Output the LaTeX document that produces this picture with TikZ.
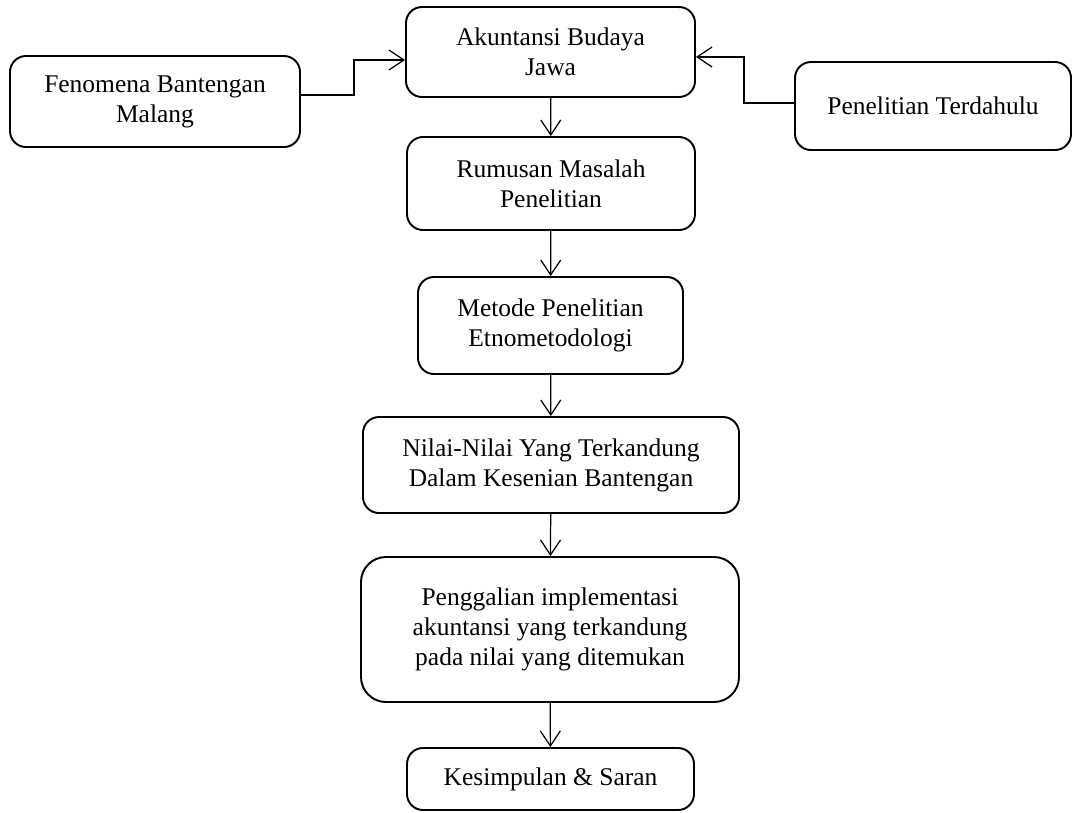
\documentclass[tikz,border=0pt]{standalone}
\usepackage{fontspec}
\setmainfont{Liberation Serif}
\usetikzlibrary{arrows.meta}
\tikzset{box/.style={draw,line width=1.1pt,rounded corners=0.32cm,align=center,
  font=\fontsize{14.5}{17}\selectfont,inner sep=2pt},
  arr/.style={line width=0.7pt,-{Straight Barb[length=0.3cm,width=0.4cm]}}}

\begin{document}
\begin{tikzpicture}
\useasboundingbox (0,0) rectangle (21.52,-16.24);
\node[box,minimum width=5.78cm,minimum height=1.8cm] (akun) at (11.01,-1.04) {Akuntansi Budaya\\Jawa};
\node[box,minimum width=5.8cm,minimum height=1.82cm] (fenom) at (3.1,-2.03) {Fenomena Bantengan\\Malang};
\node[box,minimum width=5.52cm,minimum height=1.76cm] (terd) at (18.66,-2.12) {Penelitian Terdahulu};
\node[box,minimum width=5.76cm,minimum height=1.86cm] (rumus) at (11.02,-3.67) {Rumusan Masalah\\Penelitian};
\node[box,minimum width=5.3cm,minimum height=1.94cm] (metode) at (11.01,-6.51) {Metode Penelitian\\Etnometodologi};
\node[box,minimum width=7.52cm,minimum height=1.92cm] (nilai) at (11.02,-9.3) {Nilai-Nilai Yang Terkandung\\Dalam Kesenian Bantengan};
\node[box,rounded corners=0.5cm,minimum width=7.56cm,minimum height=2.9cm] (gali) at (11,-12.59) {Penggalian implementasi\\akuntansi yang terkandung\\pada nilai yang ditemukan};
\node[box,minimum width=5.74cm,minimum height=1.24cm] (simpul) at (11.01,-15.58) {Kesimpulan \& Saran};
% connectors
\draw[arr] ([yshift=0.13cm]fenom.east) -- ++(1.06,0) |- ([yshift=-0.16cm]akun.west);
\draw[arr] ([yshift=0.06cm]terd.west) -- ++(-1.0,0) |- ([yshift=-0.1cm]akun.east);
\draw[arr] (akun) -- (rumus);
\draw[arr] (rumus) -- (metode);
\draw[arr] (metode) -- (nilai);
\draw[arr] (nilai) -- (gali);
\draw[arr] (gali) -- (simpul);
\end{tikzpicture}
\end{document}
